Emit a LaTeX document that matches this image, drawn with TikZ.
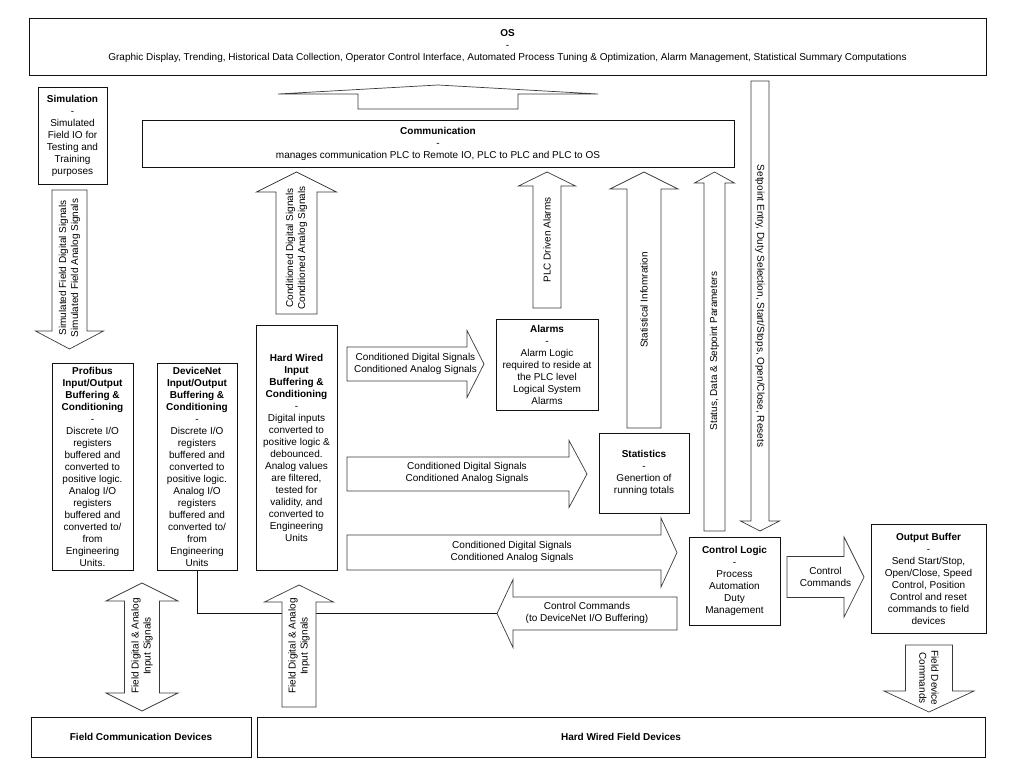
\documentclass[tikz,border=0pt]{standalone}
\usepackage{fontspec}
\setmainfont{Liberation Sans}
\usepackage{tikz}
\usetikzlibrary{calc}
\definecolor{edgeblack}{HTML}{111111}
\definecolor{arrowedge}{HTML}{3A3A3A}

% block arrows: centre line, tail, head base, tip, half shaft, half head
\newcommand{\vblockarrow}[6]{%
  \draw[blockarrow] ({#1-#5},#2) -- ({#1-#5},#3) -- ({#1-#6},#3) -- (#1,#4)
    -- ({#1+#6},#3) -- ({#1+#5},#3) -- ({#1+#5},#2) -- cycle;}
\newcommand{\hblockarrow}[6]{%
  \draw[blockarrow] (#2,{#1-#5}) -- (#3,{#1-#5}) -- (#3,{#1-#6}) -- (#4,#1)
    -- (#3,{#1+#6}) -- (#3,{#1+#5}) -- (#2,{#1+#5}) -- cycle;}

\begin{document}
\begin{tikzpicture}[x=1pt,y=-1pt,
    box/.style={draw=edgeblack,line width=0.8pt,fill=white,align=center,inner sep=0pt,font=\fontsize{10}{12}\selectfont},
    lbl/.style={align=center,inner sep=0pt,font=\fontsize{10}{12}\selectfont},
    blockarrow/.style={draw=arrowedge,line width=0.7pt,fill=white},
    wire/.style={draw=edgeblack,line width=0.8pt}]
  \useasboundingbox (0,0) rectangle (1016,771);

  % top level
  \node[box,minimum width=957pt,minimum height=57pt] (os) at (507.5,46.5)
    {\textbf{OS}\\-\\Graphic Display, Trending, Historical Data Collection, Operator Control Interface, Automated Process Tuning \& Optimization, Alarm Management, Statistical Summary Computations};
  \node[box,minimum width=592pt,minimum height=47pt] (comm) at (438,143.5)
    {\textbf{Communication}\\-\\manages communication PLC to Remote IO, PLC to PLC and PLC to OS};
  \node[box,minimum width=69pt,minimum height=97pt] (sim) at (72.5,135.5)
    {\textbf{Simulation}\\-\\Simulated\\Field IO for\\Testing and\\Training\\purposes};

  % input buffering
  \node[box,minimum width=81pt,minimum height=207pt] (profibus) at (92.5,466.5)
    {\textbf{Profibus}\\\textbf{Input/Output}\\\textbf{Buffering \&}\\\textbf{Conditioning}\\-\\Discrete I/O\\registers\\buffered and\\converted to\\positive logic.\\Analog I/O\\registers\\buffered and\\converted to/\\from\\Engineering\\Units.};
  \node[box,minimum width=80pt,minimum height=207pt] (devicenet) at (197,466.5)
    {\textbf{DeviceNet}\\\textbf{Input/Output}\\\textbf{Buffering \&}\\\textbf{Conditioning}\\-\\Discrete I/O\\registers\\buffered and\\converted to\\positive logic.\\Analog I/O\\registers\\buffered and\\converted to/\\from\\Engineering\\Units};
  \node[box,minimum width=81pt,minimum height=245pt] (hardwired) at (296.5,447.5)
    {\textbf{Hard Wired}\\\textbf{Input}\\\textbf{Buffering \&}\\\textbf{Conditioning}\\-\\Digital inputs\\converted to\\positive logic \&\\debounced.\\Analog values\\are filtered,\\tested for\\validity, and\\converted to\\Engineering\\Units};

  % logic
  \node[box,minimum width=102pt,minimum height=91pt] (alarms) at (547,364.5)
    {\textbf{Alarms}\\-\\Alarm Logic\\required to reside at\\the PLC level\\Logical System\\Alarms};
  \node[box,minimum width=90pt,minimum height=80pt] (stats) at (644,473)
    {\textbf{Statistics}\\-\\Genertion of\\running totals};
  \node[box,minimum width=91pt,minimum height=88pt] (ctrl) at (734.5,581)
    {\textbf{Control Logic}\\-\\Process\\Automation\\Duty\\Management};
  \node[box,minimum width=115pt,minimum height=109pt] (outbuf) at (928.5,578.5)
    {\textbf{Output Buffer}\\-\\Send Start/Stop,\\Open/Close, Speed\\Control, Position\\Control and reset\\commands to field\\devices};

  % field level
  \node[box,minimum width=220pt,minimum height=40pt] (fieldcomm) at (141,737)
    {\textbf{Field Communication Devices}};
  \node[box,minimum width=728pt,minimum height=40pt] (fieldhw) at (621,737)
    {\textbf{Hard Wired Field Devices}};

  % DeviceNet command line
  \coordinate (cmdtip) at (497,613.5);
  \draw[wire] (devicenet.south) |- (cmdtip);

  % vertical block arrows
  \vblockarrow{438}{109}{94}{85}{80}{160}
  \vblockarrow{69.5}{190}{331}{349}{17.5}{34}
  \vblockarrow{296.5}{314}{192}{172}{20.5}{40}
  \vblockarrow{547}{308}{186}{172}{14}{28.5}
  \vblockarrow{644}{428}{189}{172}{17}{34}
  \vblockarrow{714.5}{531}{183}{172}{10.5}{20}
  \vblockarrow{760}{81}{521}{531}{9}{19.5}
  \vblockarrow{299}{707}{602}{585}{17}{34.5}
  \vblockarrow{929}{645}{691}{712}{23.5}{45}
  \draw[blockarrow] (142,583) -- (178,601) -- (159.5,601) -- (159.5,693) -- (178,693) -- (142,711)
    -- (106,693) -- (124.5,693) -- (124.5,601) -- (106,601) -- cycle;

  % horizontal block arrows
  \hblockarrow{364}{347}{467}{484}{17}{33.5}
  \hblockarrow{474}{347}{569}{587}{17}{33.5}
  \hblockarrow{552.5}{347}{661}{677}{17.5}{34.5}
  \hblockarrow{613.5}{677}{513}{497}{16.5}{34}
  \hblockarrow{577}{787}{844}{864}{20.5}{40}

  % arrow texts
  \node[lbl,rotate=90] (simsig) at (69.5,268) {Simulated Field Digital Signals\\Simulated Field Analog Signals};
  \node[lbl,rotate=90] (condup) at (296.5,248) {Conditioned Digital Signals\\Conditioned Analog Signals};
  \node[lbl,rotate=90] (plcalarm) at (547,240) {PLC Driven Alarms};
  \node[lbl,rotate=90] (statinfo) at (644,300) {Statistical Infomration};
  \node[lbl,rotate=90] (statusdata) at (714.5,351) {Status, Data \& Setpoint Parameters};
  \node[lbl,rotate=-90] (setpoint) at (760,306) {Setpoint Entry, Duty Selection, Start/Stops, Open/Close, Resets};
  \node[lbl,rotate=90] (fieldin) at (142,646) {Field Digital \& Analog\\Input Signals};
  \node[lbl,rotate=90] (hwin) at (299,646) {Field Digital \& Analog\\Input Signals};
  \node[lbl,rotate=-90] (fieldcmd) at (929,678) {Field Device\\Commands};
  \node[lbl] (toalarms) at (415.5,364) {Conditioned Digital Signals\\Conditioned Analog Signals};
  \node[lbl] (tostats) at (467,473) {Conditioned Digital Signals\\Conditioned Analog Signals};
  \node[lbl] (toctrl) at (512,552) {Conditioned Digital Signals\\Conditioned Analog Signals};
  \node[lbl] (cmdback) at (587,613) {Control Commands\\(to DeviceNet I/O Buffering)};
  \node[lbl] (cmdout) at (825.5,577) {Control\\Commands};
\end{tikzpicture}
\end{document}
